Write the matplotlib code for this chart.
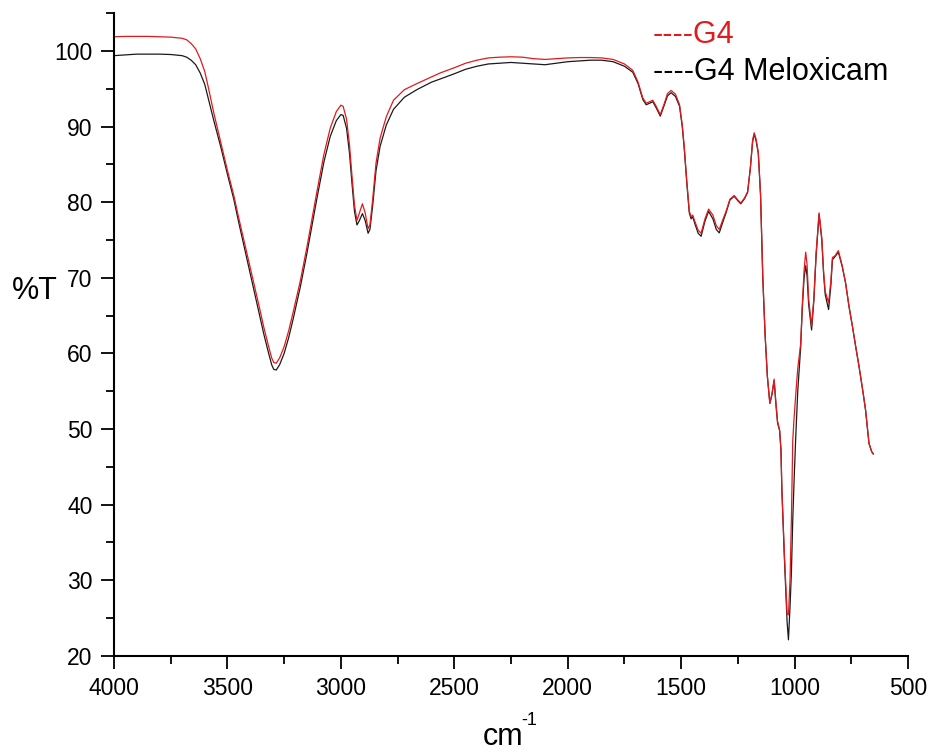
import matplotlib
matplotlib.use("Agg")
import matplotlib.pyplot as plt
from matplotlib.ticker import MultipleLocator

plt.rcParams['font.family'] = ['Liberation Sans', 'DejaVu Sans']

# wavenumber (cm-1), shared by both traces
wavenumber = [4000, 3950, 3900, 3850, 3800, 3750, 3700, 3680, 3660, 3640, 3620, 3600, 3585, 3560,
              3530, 3500, 3472, 3450, 3420, 3385, 3360, 3340, 3320, 3305, 3296, 3285, 3270, 3250,
              3230, 3210, 3190, 3178, 3150, 3125, 3105, 3075, 3047, 3020, 3000, 2990, 2975, 2962,
              2951, 2940, 2929, 2918, 2905, 2893, 2880, 2872, 2860, 2845, 2827, 2800, 2768, 2720,
              2665, 2600, 2563, 2500, 2450, 2400, 2350, 2300, 2250, 2200, 2150, 2100, 2050, 2000,
              1950, 1900, 1850, 1800, 1750, 1713, 1690, 1669, 1654, 1640, 1625, 1610, 1592, 1575,
              1560, 1544, 1525, 1507, 1495, 1486, 1475, 1464, 1456, 1449, 1440, 1425, 1412, 1395,
              1379, 1360, 1345, 1332, 1315, 1302, 1285, 1266, 1250, 1237, 1220, 1207, 1195, 1185,
              1178, 1170, 1160, 1150, 1140, 1130, 1120, 1109, 1100, 1090, 1083, 1075, 1066, 1060,
              1056, 1045, 1033, 1027, 1020, 1014, 1008, 1002, 995, 986, 973, 966, 958, 951,
              945, 938, 925, 915, 905, 892, 880, 872, 865, 850, 840, 833, 822, 807,
              790, 775, 760, 745, 730, 716, 700, 687, 672, 660, 653]

# %T, G4 Meloxicam (black)
t_meloxicam = [99.4, 99.5, 99.6, 99.6, 99.6, 99.55, 99.4, 99.2, 98.8, 98.2, 97.1, 95.6, 93.8, 90.8,
               87.4, 83.7, 80.4, 77.3, 73.3, 68.6, 65.3, 62.6, 60.2, 58.5, 57.9, 57.8, 58.5, 60.0,
               62.1, 64.6, 67.3, 68.9, 73.2, 77.3, 80.6, 85.3, 88.7, 90.8, 91.6, 91.5, 89.8, 86.5,
               82.5, 78.8, 77.0, 77.6, 78.5, 77.6, 75.9, 76.4, 79.5, 84.2, 87.4, 90.2, 92.3, 93.9,
               94.9, 95.9, 96.3, 97.0, 97.6, 98.0, 98.3, 98.4, 98.5, 98.4, 98.3, 98.2, 98.4, 98.6,
               98.7, 98.8, 98.8, 98.6, 98.0, 97.2, 95.7, 93.6, 92.9, 93.1, 93.3, 92.5, 91.4, 92.8,
               94.1, 94.5, 94.0, 92.7, 90.0, 87.0, 82.5, 78.6, 77.8, 78.1, 77.2, 75.9, 75.5, 77.5,
               78.8, 77.8, 76.4, 75.95, 77.5, 78.6, 80.3, 80.8, 80.2, 79.8, 80.5, 81.3, 84.5, 88.0,
               89.0, 88.2, 86.5, 81.0, 70.0, 62.5, 57.0, 53.4, 54.5, 56.4, 53.5, 50.8, 49.8, 47.2,
               42.0, 33.0, 24.5, 22.1, 26.5, 31.0, 38.0, 43.3, 48.8, 55.0, 60.9, 66.0, 70.0, 71.6,
               70.3, 66.5, 63.1, 67.0, 73.0, 78.4, 75.0, 70.5, 67.8, 65.8, 69.0, 72.4, 72.8, 73.4,
               71.5, 69.3, 66.2, 63.6, 60.8, 58.3, 55.2, 52.5, 48.1, 47.0, 46.7]

# %T, G4 (red)
t_g4 = [101.9, 101.95, 101.95, 101.95, 101.9, 101.85, 101.7, 101.5, 101.0, 100.3, 99.0, 97.3, 95.3, 91.8,
        88.0, 84.2, 80.9, 77.9, 74.0, 69.4, 66.2, 63.5, 61.1, 59.4, 58.8, 58.7, 59.4, 60.9,
        63.0, 65.5, 68.1, 69.7, 74.0, 78.2, 81.5, 86.3, 89.8, 92.0, 92.85, 92.7, 91.0, 87.6,
        83.5, 79.6, 77.6, 78.6, 79.8, 78.6, 76.5, 77.0, 80.3, 85.2, 88.5, 91.3, 93.5, 94.9,
        95.7, 96.6, 97.1, 97.8, 98.4, 98.8, 99.1, 99.2, 99.25, 99.2, 99.0, 98.9, 99.0, 99.1,
        99.15, 99.15, 99.1, 98.9, 98.3, 97.45, 95.9, 93.8, 93.1, 93.3, 93.5, 92.7, 91.6, 93.0,
        94.4, 94.8, 94.3, 92.9, 90.2, 87.2, 82.8, 78.8, 78.1, 78.3, 77.5, 76.3, 75.9, 77.8,
        79.1, 78.3, 76.9, 76.4, 77.8, 78.8, 80.4, 80.9, 80.3, 79.9, 80.6, 81.4, 84.5, 88.2,
        89.2, 88.4, 86.6, 81.0, 70.0, 62.5, 57.0, 53.4, 54.6, 56.6, 53.8, 51.0, 49.9, 47.3,
        42.0, 33.5, 25.6, 25.4, 30.0, 38.0, 48.5, 51.5, 54.5, 58.0, 61.3, 66.3, 71.0, 73.4,
        71.8, 67.2, 63.6, 67.3, 73.3, 78.6, 75.3, 70.8, 68.2, 66.7, 69.6, 72.7, 72.9, 73.6,
        71.6, 69.3, 66.2, 63.6, 60.8, 58.3, 55.2, 52.5, 48.1, 47.0, 46.7]

fig = plt.figure(figsize=(9.33, 7.53), dpi=100)
ax = fig.add_axes([0.1222, 0.1292, 0.8510, 0.8531])

ax.plot(wavenumber, t_meloxicam, color='#1a1a1a', lw=0.9)
ax.plot(wavenumber, t_g4, color='#e3191c', lw=0.9)

ax.set_xlim(4000, 500)
ax.set_ylim(20, 105)
ax.xaxis.set_major_locator(MultipleLocator(500))
ax.xaxis.set_minor_locator(MultipleLocator(250))
ax.yaxis.set_major_locator(MultipleLocator(10))
ax.yaxis.set_minor_locator(MultipleLocator(5))

# origin-style axes: only left and bottom
ax.spines['top'].set_visible(False)
ax.spines['right'].set_visible(False)
for s in ['left', 'bottom']:
    ax.spines[s].set_linewidth(1.5)
ax.tick_params(which='major', direction='out', length=9.5, width=1.3, labelsize=16.5, pad=6)
ax.tick_params(which='minor', direction='out', length=5.5, width=1.3)

# axis titles placed by hand like the original
fig.text(12 / 933, 1 - 291 / 753, '%T', fontsize=22, va='center', ha='left')
fig.text(483 / 933, 1 - 745 / 753, 'cm', fontsize=22, va='baseline', ha='left')
fig.text(521 / 933, 1 - 725 / 753, '-1', fontsize=13, va='baseline', ha='left')

# legend written as coloured text
fig.text(653 / 933, 1 - 43 / 753, '----G4', fontsize=22, color='#e3191c', va='baseline')
fig.text(653 / 933, 1 - 80 / 753, '----G4 Meloxicam', fontsize=22, color='black', va='baseline')

fig.savefig('out.png', dpi=100)
